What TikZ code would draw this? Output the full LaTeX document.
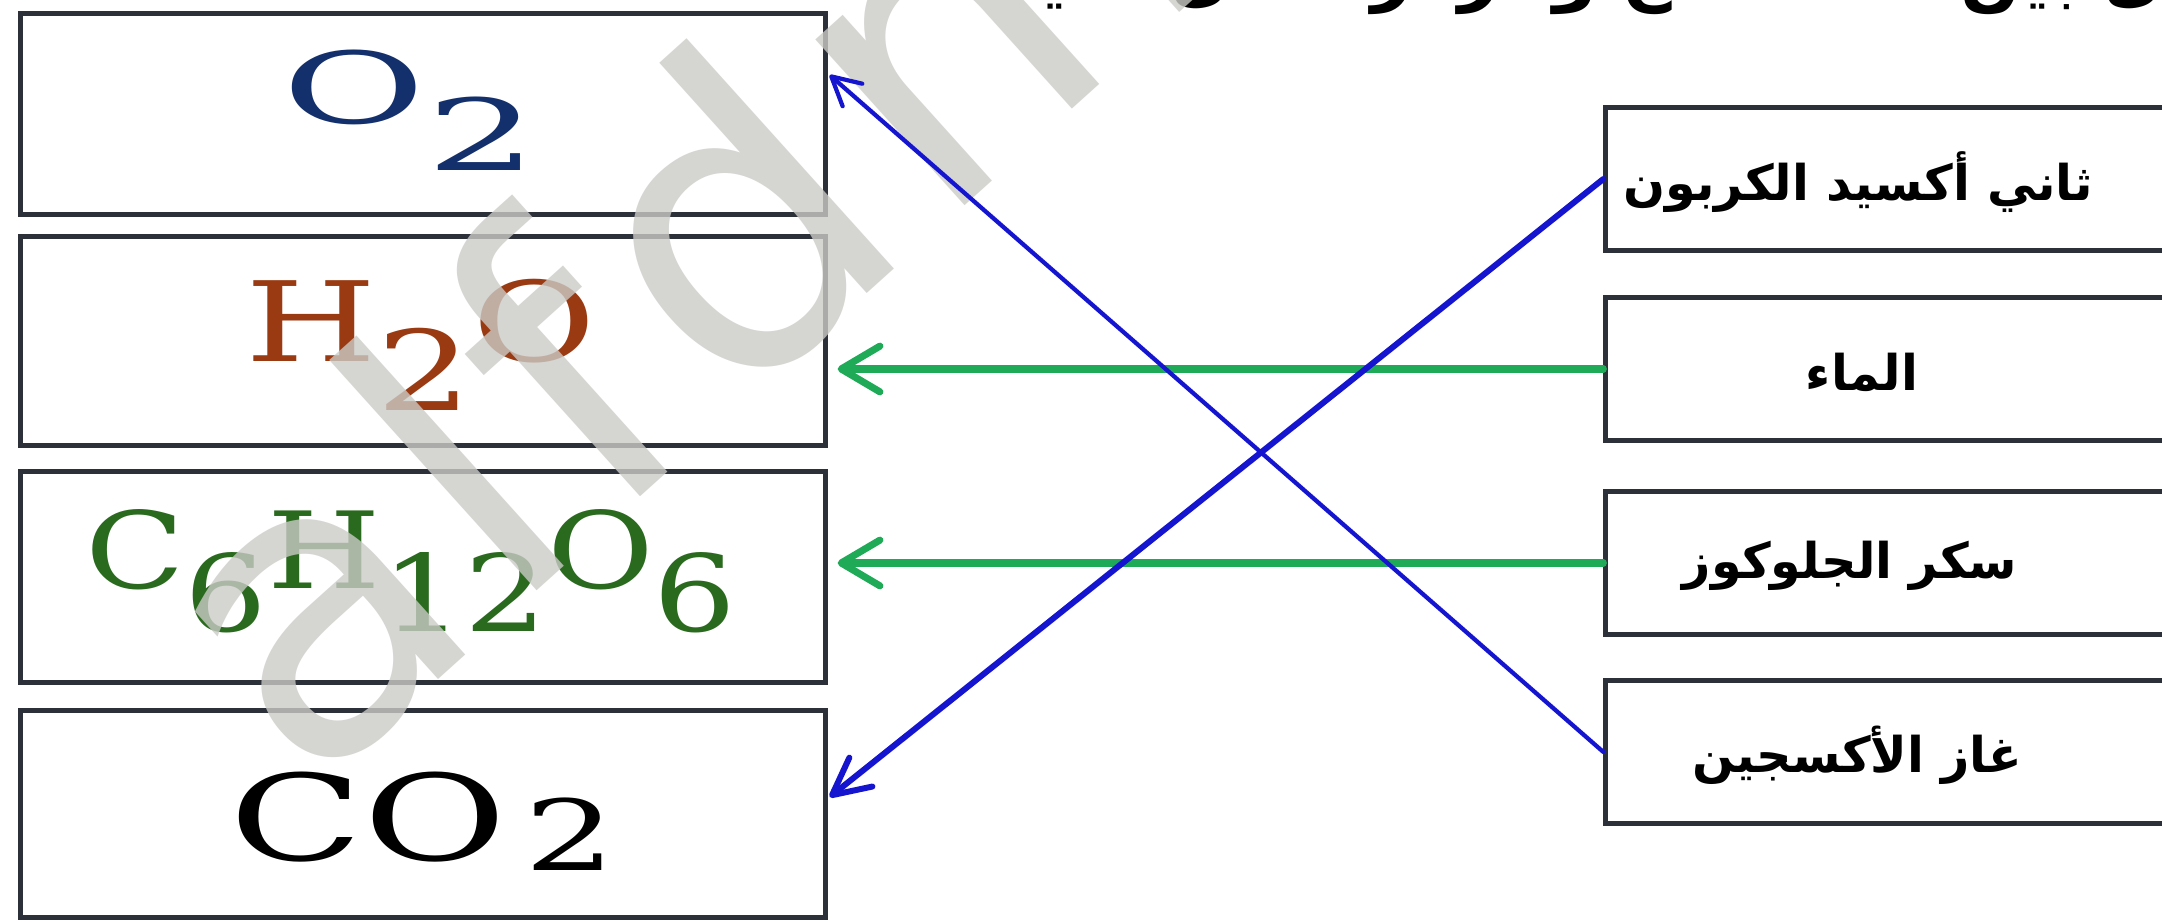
\documentclass[tikz,border=0pt]{standalone}
\usepackage{fontspec}
\usepackage{graphicx}
\setmainfont{DejaVu Serif}
\newfontfamily\arabicfont[Script=Arabic]{DejaVu Sans}
\newfontfamily\markfont{DejaVu Sans}
\TeXXeTstate=1
\usetikzlibrary{arrows.meta,calc}

\definecolor{boxline}{HTML}{2C3038}
\definecolor{oxblue}{HTML}{14306C}
\definecolor{waterbrown}{HTML}{9A3A12}
\definecolor{sugargreen}{HTML}{2A6A1E}
\definecolor{linkblue}{HTML}{1515D0}
\definecolor{linkgreen}{HTML}{1FAA58}
\definecolor{markgray}{HTML}{CBCBC7}

% a full-size digit set below the baseline, as in the formulas
\newcommand\lowdigit[2][0.44em]{\raisebox{-#1}{#2}}

\begin{document}
\begin{tikzpicture}[x=0.01cm,y=-0.01cm,
  leftbox/.style={draw=boxline,line width=1.4pt,minimum width=8.04cm,inner sep=0pt},
  rightbox/.style={draw=boxline,line width=1.4pt,minimum width=6.4cm,minimum height=1.43cm,inner sep=0pt},
  formula/.style={inner sep=0pt},
  termtext/.style={inner sep=0pt,font=\arabicfont\bfseries\fontsize{14}{17}\selectfont},
  headtext/.style={inner sep=0pt,font=\arabicfont\bfseries\fontsize{20}{23}\selectfont},
  markstyle/.style={inner sep=0pt,text=markgray,text opacity=0.8,rotate=42,
    font=\markfont\fontsize{116}{116}\selectfont},
  bluelink/.style={draw=linkblue,line cap=round,line join=round},
  greenlink/.style={draw=linkgreen,line width=2pt,line cap=round,line join=round,
    -{Straight Barb[length=11pt,width=13pt,round]}}
]
\path[use as bounding box] (0,0) rectangle (2162,922);
\clip (0,0) rectangle (2162,922);
\fill[white] (0,0) rectangle (2162,922);

% heading, mostly above the top edge
\node[headtext,anchor=base east] (head) at (2235,-2)
  {\beginR صل بين المصطلح والرمز الدال عليه\endR};

% formula boxes
\node[leftbox,minimum height=2cm]   (o2box)  at (423,114) {};
\node[leftbox,minimum height=2.09cm] (h2obox) at (423,341) {};
\node[leftbox,minimum height=2.1cm]  (glubox) at (423,577) {};
\node[leftbox,minimum height=2.07cm] (co2box) at (423,814) {};

\node[formula,text=oxblue] (o2) at (410,110)
  {\resizebox*{25.4mm}{12mm}{O\lowdigit[0.47em]{2}}};
\node[formula,text=waterbrown] (h2o) at (421,345)
  {\resizebox*{35.1mm}{13.1mm}{H\lowdigit[0.44em]{2}O}};
\node[formula,text=sugargreen] (glu) at (411,571)
  {\resizebox*{65.1mm}{12.3mm}{C\lowdigit[0.40em]{6}H\lowdigit[0.40em]{12}O\lowdigit[0.40em]{6}}};
\node[formula,text=black] (co2) at (423,821)
  {\resizebox*{38.6mm}{9.8mm}{CO\kern0.1em\raisebox{-0.08em}{\scalebox{0.82}{2}}}};

% term boxes, running off the right edge
\node[rightbox] (r1) at (1926,179) {};
\node[rightbox] (r2) at (1926,369) {};
\node[rightbox] (r3) at (1926,563) {};
\node[rightbox] (r4) at (1926,752) {};

\node[termtext] (t1) at (1858,182) {\beginR ثاني أكسيد الكربون\endR};
\node[termtext] (t2) at (1862,372) {\beginR الماء\endR};
\node[termtext] (t3) at (1850,566) {\beginR سكر الجلوكوز\endR};
\node[termtext] (t4) at (1857,755) {\beginR غاز الأكسجين\endR};

% watermark
\node[markstyle] (mark) at (668,268) {a\kern0.05em l\kern0.05em f\kern0.05em d\kern0.05em m};

% arrow targets on the formula boxes
\coordinate (o2tip)  at ($(o2box.north east)!0.31!(o2box.south east)+(2,0)$);
\coordinate (co2tip) at ($(co2box.north east)!0.42!(co2box.south east)+(2,0)$);
\coordinate (h2otip) at ($(h2obox.east |- r2.west)+(10,0)$);
\coordinate (glutip) at ($(glubox.east |- r3.west)+(10,0)$);

\draw[greenlink] (r2.west) -- (h2otip);
\draw[greenlink] (r3.west) -- (glutip);
\draw[bluelink,line width=1.2pt,-{Straight Barb[length=8pt,width=8.5pt,round]}] (r4.west) -- (o2tip);
\draw[bluelink,line width=1.7pt,-{Straight Barb[length=10.5pt,width=10.5pt,round]}] (r1.west) -- (co2tip);
\end{tikzpicture}
\end{document}
